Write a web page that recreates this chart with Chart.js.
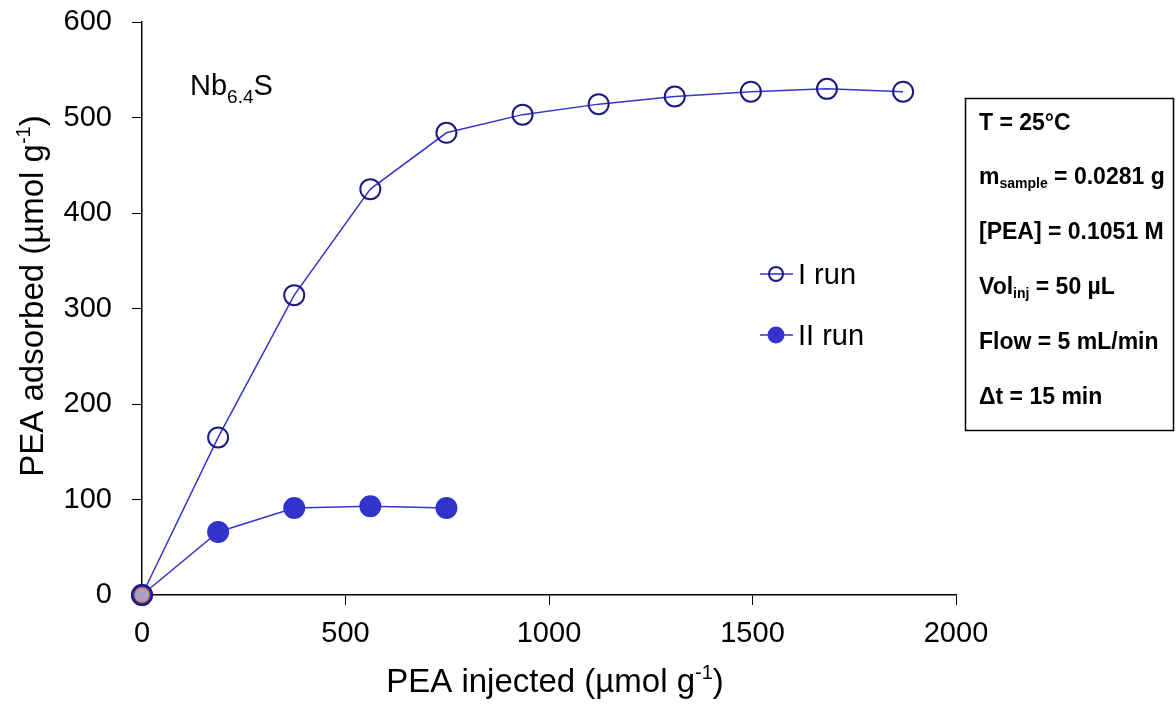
<!DOCTYPE html>
<html>
<head>
<meta charset="utf-8">
<script src="https://cdn.jsdelivr.net/npm/chart.js@4.4.0/dist/chart.umd.min.js"></script>
<style>
  html, body { margin: 0; padding: 0; background: #fff; }
  #wrap { width: 1176px; height: 708px; }
</style>
</head>
<body>
<div id="wrap"><canvas id="chart" width="1176" height="708"></canvas></div>
<script>
// PEA injected vs adsorbed, Nb6.4S
const injectedRun1 = [0, 187, 374, 561, 748, 935, 1122, 1309, 1496, 1683, 1870];
const adsorbedRun1 = [0, 165, 314, 425, 484, 503, 514, 522, 527, 530, 527];
const injectedRun2 = [0, 187, 374, 561, 748];
const adsorbedRun2 = [0, 66, 91, 93, 91];
const originMark = [{ x: 0, y: 0 }];

const xTicks = [0, 500, 1000, 1500, 2000];
const yTicks = [0, 100, 200, 300, 400, 500, 600];

const conditions = [
    ['T = 25°C'],
    ['m', 'sample', ' = 0.0281 g'],
    ['[PEA] = 0.1051 M'],
    ['Vol', 'inj', ' = 50 µL'],
    ['Flow = 5 mL/min'],
    ['Δt = 15 min']
];

const FONT = "'Liberation Sans', Arial, sans-serif";
const lineBlue = '#3535c8';
const navy = '#1a1a80';

function toPoints(xs, ys) {
    return xs.map((x, i) => ({ x: x, y: ys[i] }));
}

// draws text with a raised "-1"
function drawWithSup(ctx, pre, sup, post, x, y, size) {
    ctx.textAlign = 'left';
    const supSize = Math.round(size * 0.6);
    ctx.font = size + 'px ' + FONT;
    const w1 = ctx.measureText(pre).width;
    ctx.font = supSize + 'px ' + FONT;
    const w2 = ctx.measureText(sup).width;
    ctx.font = size + 'px ' + FONT;
    const w3 = ctx.measureText(post).width;
    let cx = x - (w1 + w2 + w3) / 2;
    ctx.fillText(pre, cx, y);
    cx += w1;
    ctx.font = supSize + 'px ' + FONT;
    ctx.fillText(sup, cx, y - size * 0.4);
    cx += w2;
    ctx.font = size + 'px ' + FONT;
    ctx.fillText(post, cx, y);
}

const extras = {
    id: 'extras',
    afterDraw(chart) {
        const ctx = chart.ctx;
        ctx.save();
        ctx.fillStyle = '#000';
        ctx.textBaseline = 'alphabetic';

        // axis titles
        drawWithSup(ctx, 'PEA injected (µmol g', '-1', ')', 555, 692, 33);
        ctx.save();
        ctx.translate(43, 296);
        ctx.rotate(-Math.PI / 2);
        drawWithSup(ctx, 'PEA adsorbed (µmol g', '-1', ')', 0, 0, 33);
        ctx.restore();

        // sample label
        ctx.textAlign = 'left';
        ctx.font = '29px ' + FONT;
        ctx.fillText('Nb', 190, 95);
        const w = ctx.measureText('Nb').width;
        ctx.font = '19px ' + FONT;
        ctx.fillText('6.4', 190 + w, 103);
        const w2 = ctx.measureText('6.4').width;
        ctx.font = '29px ' + FONT;
        ctx.fillText('S', 190 + w + w2, 95);

        // legend
        const ds = chart.data.datasets;
        const legendRows = [[ds[1], 274], [ds[2], 335]];
        legendRows.forEach(([d, y]) => {
            ctx.strokeStyle = d.borderColor;
            ctx.lineWidth = 1.5;
            ctx.beginPath();
            ctx.moveTo(760, y);
            ctx.lineTo(793, y);
            ctx.stroke();
            ctx.beginPath();
            ctx.arc(776, y, d === ds[1] ? 7 : 8.5, 0, Math.PI * 2);
            if (d.pointBackgroundColor !== 'transparent') {
                ctx.fillStyle = d.pointBackgroundColor;
                ctx.fill();
            } else {
                ctx.strokeStyle = d.pointBorderColor;
                ctx.lineWidth = 2;
                ctx.stroke();
            }
            ctx.fillStyle = '#000';
            ctx.font = '29px ' + FONT;
            ctx.fillText(d.label, 798, y + 10);
        });

        // conditions box
        ctx.strokeStyle = '#000';
        ctx.lineWidth = 1.5;
        ctx.strokeRect(965.5, 98.5, 208, 332);
        const rowY = [130, 184, 239, 294, 349, 404];
        conditions.forEach((row, i) => {
            let x = 979;
            ctx.font = 'bold 23px ' + FONT;
            ctx.fillText(row[0], x, rowY[i]);
            if (row.length === 3) {
                x += ctx.measureText(row[0]).width;
                ctx.font = 'bold 14px ' + FONT;
                ctx.fillText(row[1], x, rowY[i] + 4);
                x += ctx.measureText(row[1]).width;
                ctx.font = 'bold 23px ' + FONT;
                ctx.fillText(row[2], x, rowY[i]);
            }
        });
        ctx.restore();
    }
};

new Chart(document.getElementById('chart'), {
    type: 'scatter',
    plugins: [extras],
    data: {
        datasets: [{
            label: 'origin',
            data: originMark,
            clip: false,
            pointRadius: 7,
            pointBackgroundColor: '#a9a0c8',
            pointBorderColor: '#e08a4a',
            pointBorderWidth: 1.5,
            order: 0
        }, {
            label: 'I run',
            data: toPoints(injectedRun1, adsorbedRun1),
            clip: false,
            showLine: true,
            borderColor: lineBlue,
            borderWidth: 1.5,
            pointRadius: 10,
            pointBackgroundColor: 'transparent',
            pointBorderColor: navy,
            pointBorderWidth: 2,
            order: 1
        }, {
            label: 'II run',
            data: toPoints(injectedRun2, adsorbedRun2),
            clip: false,
            showLine: true,
            borderColor: lineBlue,
            borderWidth: 1.5,
            pointRadius: 11,
            pointBackgroundColor: '#3333cc',
            pointBorderColor: '#3333cc',
            pointBorderWidth: 0,
            order: 2
        }]
    },
    options: {
        responsive: false,
        animation: false,
        layout: { padding: { left: 0, right: 220, top: 22, bottom: 0 } },
        plugins: {
            legend: { display: false },
            tooltip: { enabled: false }
        },
        scales: {
            x: {
                type: 'linear',
                min: 0,
                max: 2000,
                afterBuildTicks: (scale) => { scale.ticks = xTicks.map(v => ({ value: v })); },
                afterFit: (scale) => { scale.height = 113; },
                border: { display: true, color: '#000', width: 1.5 },
                grid: { drawOnChartArea: false, tickLength: 10, color: '#000', tickColor: '#000' },
                ticks: { color: '#000', padding: 12, maxRotation: 0, font: { family: FONT, size: 29 },
                         callback: (v) => String(v) }
            },
            y: {
                type: 'linear',
                min: 0,
                max: 600,
                afterBuildTicks: (scale) => { scale.ticks = yTicks.map(v => ({ value: v })); },
                afterFit: (scale) => {
                    scale.width = 142;
                    scale.paddingTop = 0;
                    scale.paddingBottom = 0;
                },
                border: { display: true, color: '#000', width: 1.5 },
                grid: { drawOnChartArea: false, tickLength: 10, color: '#000', tickColor: '#000' },
                ticks: { color: '#000', padding: 20, font: { family: FONT, size: 29 },
                         callback: (v) => String(v) }
            }
        }
    }
});
</script>
</body>
</html>
